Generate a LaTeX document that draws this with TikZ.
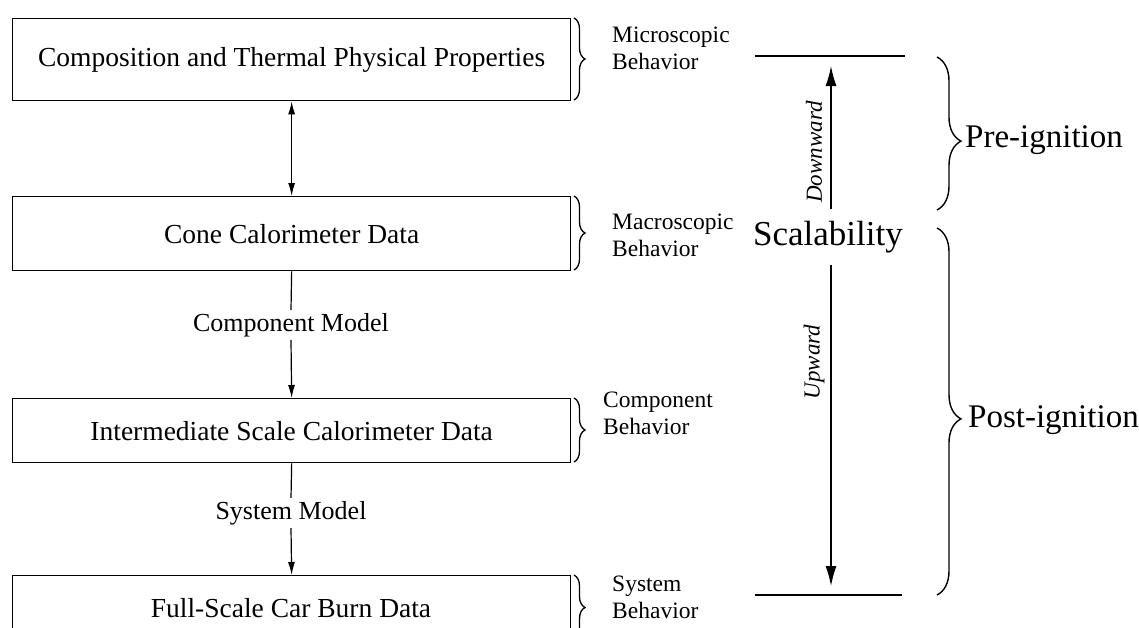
\documentclass[tikz,border=0pt]{standalone}
\usepackage{fontspec}
\setmainfont{Liberation Serif}
\usetikzlibrary{arrows.meta,decorations.pathreplacing}
\begin{document}
\begin{tikzpicture}[x=1pt,y=-1pt,
 box/.style={draw,line width=1.3pt,minimum width=558pt,anchor=north west,inner sep=0pt,font=\fontsize{27.5}{30}\selectfont},
 lbl/.style={font=\fontsize{26}{30}\selectfont,inner sep=3pt},
 side/.style={font=\fontsize{23.5}{27}\selectfont,align=left,anchor=west,inner sep=0pt},
 big/.style={font=\fontsize{33}{36}\selectfont,inner sep=0pt},
 dir/.style={font=\fontsize{23}{26}\selectfont\itshape,rotate=90,inner sep=0pt},
 sbrace/.style={decorate,decoration={brace,amplitude=11pt},line width=1.3pt},
 lbrace/.style={decorate,decoration={brace,amplitude=24pt},line width=1.4pt},
 arr/.style={-{Latex[length=13pt,width=7pt]},line width=1.2pt},
 bigarr/.style={-{Latex[length=20pt,width=11pt]},line width=1.4pt},
 rule/.style={line width=1.5pt}]
\useasboundingbox (0,0) rectangle (1139,627);
\clip (0,0) rectangle (1139,627);

% boxes
\node[box,minimum height=82pt] (b1) at (12,18) {Composition and Thermal Physical Properties};
\node[box,minimum height=74pt] (b2) at (12,196) {Cone Calorimeter Data};
\node[box,minimum height=64pt] (b3) at (12,398) {Intermediate Scale Calorimeter Data};
\node[box,minimum height=66pt,text depth=0pt] (b4) at (12,575) {};
\node[font=\fontsize{27.5}{30}\selectfont] (b4t) at (291,608) {Full-Scale Car Burn Data};

% connectors
\draw[arr,{Latex[length=13pt,width=7pt]}-{Latex[length=13pt,width=7pt]}] (b1.south) -- (b2.north);
\node[lbl] (cm) at (291,325) {Component Model};
\draw[line width=1.2pt] (b2.south) -- (cm.north);
\draw[arr] (cm.south) -- (b3.north);
\node[lbl] (sm) at (291,513) {System Model};
\draw[line width=1.2pt] (b3.south) -- (sm.north);
\draw[arr] (sm.south) -- (b4.north);

% small braces
\draw[sbrace] (574,18) -- (574,100);
\draw[sbrace] (574,196) -- (574,270);
\draw[sbrace] (574,398) -- (574,462);
\draw[sbrace] (574,575) -- (574,640);
\node[side] (l1) at (612,48) {Microscopic\\Behavior};
\node[side] (l2) at (612,235) {Macroscopic\\Behavior};
\node[side] (l3) at (603,413) {Component\\Behavior};
\node[side] (l4) at (612,597) {System\\Behavior};

% scalability
\coordinate (t1) at (755,56);
\coordinate (t2) at (905,56);
\draw[rule] (t1) -- (t2);
\coordinate (bl1) at (755,595);
\coordinate (bl2) at (902,595);
\draw[rule] (bl1) -- (bl2);
\node[big,font=\fontsize{35}{38}\selectfont] (sc) at (828,237) {Scalability};
\coordinate (uptip) at (831,66);
\coordinate (dntip) at (831,586);
\draw[bigarr] (sc.north -| uptip) ++(0,-12) -- (uptip);
\draw[bigarr] (sc.south -| dntip) ++(0,12) -- (dntip);
\node[dir] (dw) at (814,152) {Downward};
\node[dir] (uw) at (814,362) {Upward};

% large braces
\draw[lbrace,decoration={aspect=0.55}] (937,57) -- (937,210);
\draw[lbrace,decoration={aspect=0.52}] (937,228) -- (937,595);
\node[big,anchor=west] (pre) at (965,140) {Pre-ignition};
\node[big,anchor=west] (post) at (968,420) {Post-ignition};
\end{tikzpicture}
\end{document}
